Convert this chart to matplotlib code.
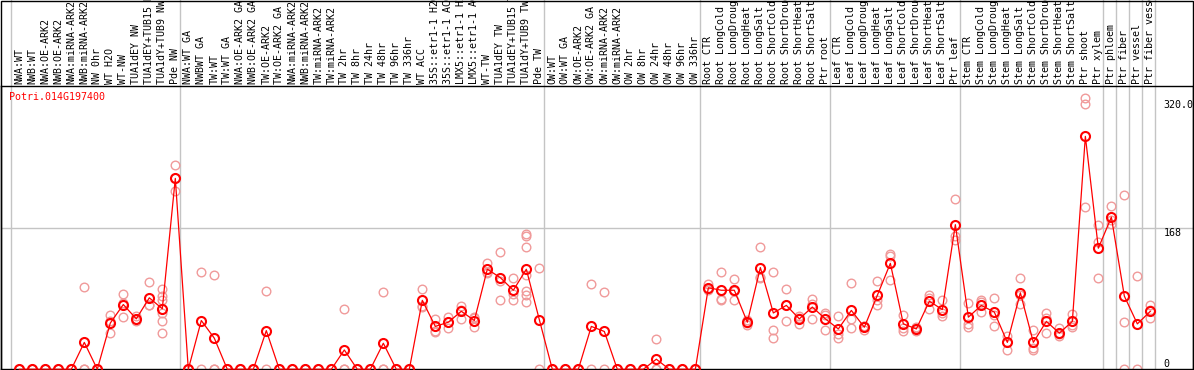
import matplotlib
matplotlib.use("Agg")
import matplotlib.pyplot as plt
import matplotlib.transforms as mtransforms
from matplotlib.patches import Rectangle

# sample names, in plotting order
samples = [
    "NWA:WT", "NWB:WT", "NWA:OE-ARK2", "NWB:OE-ARK2", "NWA:miRNA-ARK2", "NWB:miRNA-ARK2",
    "NW 0hr", "WT H2O", "WT-NW", "TUA1dEY NW", "TUA1dEY+TUB15 NW", "TUA1dY+TUB9 NW", "Pde NW",
    "NWA:WT GA", "NWBWT GA", "TW:WT", "TW:WT GA", "NWA:OE-ARK2 GA", "NWB:OE-ARK2 GA",
    "TW:OE-ARK2", "TW:OE-ARK2 GA", "NWA:miRNA-ARK2", "NWB:miRNA-ARK2", "TW:miRNA-ARK2",
    "TW:miRNA-ARK2", "TW 2hr", "TW 8hr", "TW 24hr", "TW 48hr", "TW 96hr", "TW 336hr",
    "WT ACC", "35S::etr1-1 H2O", "35S::etr1-1 ACC", "LMX5::etr1-1 H2O", "LMX5::etr1-1 ACC",
    "WT-TW", "TUA1dEY TW", "TUA1dEY+TUB15 TW", "TUA1dY+TUB9 TW", "Pde TW",
    "OW:WT", "OW:WT GA", "OW:OE-ARK2", "OW:OE-ARK2 GA", "OW:miRNA-ARK2", "OW:miRNA-ARK2",
    "OW 2hr", "OW 8hr", "OW 24hr", "OW 48hr", "OW 96hr", "OW 336hr",
    "Root CTR", "Root LongCold", "Root LongDrought", "Root LongHeat", "Root LongSalt",
    "Root ShortCold", "Root ShortDrought", "Root ShortHeat", "Root ShortSalt", "Ptr root",
    "Leaf CTR", "Leaf LongCold", "Leaf LongDrought", "Leaf LongHeat", "Leaf LongSalt",
    "Leaf ShortCold", "Leaf ShortDrought", "Leaf ShortHeat", "Leaf ShortSalt", "Ptr leaf",
    "Stem CTR", "Stem LongCold", "Stem LongDrought", "Stem LongHeat", "Stem LongSalt",
    "Stem ShortCold", "Stem ShortDrought", "Stem ShortHeat", "Stem ShortSalt", "Ptr shoot",
    "Ptr xylem", "Ptr phloem", "Ptr fiber", "Ptr vessel", "Ptr fiber vessel",
]

# mean expression per sample
means = [
    0, 0, 0, 0, 0, 32, 0, 55, 77, 60, 85, 72, 227,
    0, 58, 37, 0, 0, 0, 46, 0, 0, 0, 0, 0, 23, 0, 0, 31, 0, 0,
    82, 51, 56, 69, 58, 119, 109, 94, 119, 59,
    0, 0, 0, 51, 45, 0, 0, 0, 12, 0, 0, 0,
    97, 94, 94, 56, 121, 67, 76, 60, 74, 60,
    48, 70, 50, 88, 126, 54, 48, 81, 71, 172,
    62, 76, 68, 32, 91, 32, 57, 43, 57, 277,
    144, 181, 87, 54, 69,
]

# individual replicates per sample
replicates = [
    [0, 0, 0], [0, 0, 0], [0, 0, 0], [0, 0, 0], [0, 0, 0], [98, 0, 0], [0, 0, 0],
    [64, 43, 57], [90, 62, 79], [60, 58, 63], [104, 76, 76], [96, 87, 67, 58, 43, 83],
    [243, 212, 227],
    [0, 0, 0], [116, 0], [112, 0, 0], [0, 0, 0], [0, 0, 0], [0, 0, 0], [93, 0],
    [0, 0, 0], [0, 0, 0], [0, 0, 0], [0, 0, 0], [0, 0, 0], [72, 0, 0], [0, 0, 0],
    [0, 0, 0], [92, 0, 0], [0, 0, 0], [0, 0, 0],
    [95, 75, 74], [60, 46, 44], [62, 49, 56], [75, 60, 71], [61, 50, 62],
    [126, 114, 116], [139, 83, 105], [109, 89, 82], [161, 159, 145, 112, 93, 88, 80],
    [120, 0],
    [0, 0, 0], [0, 0, 0], [0, 0, 0], [102, 0], [92, 0], [0, 0, 0], [0, 0, 0],
    [0, 0, 0], [36, 0, 0], [0, 0, 0], [0, 0, 0], [0, 0, 0],
    [102, 94, 96], [116, 84, 82], [107, 82, 93], [59, 53, 55], [145, 110, 108],
    [116, 47, 37], [96, 57, 76], [63, 54, 61], [84, 78, 60], [67, 65, 47],
    [63, 42, 37], [103, 60, 49], [52, 47, 51], [105, 82, 77], [137, 106, 135],
    [65, 49, 46], [50, 46, 49], [88, 85, 72], [83, 67, 63], [202, 158, 154],
    [79, 54, 50], [83, 80, 68], [85, 64, 51], [40, 23, 33], [108, 78, 88],
    [47, 25, 23], [67, 61, 43], [49, 42, 40], [66, 53, 50], [323, 315, 193],
    [172, 151, 108], [194, 177, 173], [207, 56, 0], [111, 0], [76, 61, 70],
]

# first sample index of each block (separators are drawn before these)
group_starts = [0, 13, 41, 53, 63, 73, 84, 85, 86, 87, 88]

gene = "Potri.014G197400"
y_marks = [320, 168, 0]
y_mark_labels = ["320.0", "168", "0"]

W, H = 1194, 370
fig = plt.figure(figsize=(W / 100, H / 100), dpi=100, facecolor="white")
ax = fig.add_axes([0.5 / W, (H - 369.3) / H, 1192.5 / W, (369.3 - 86) / H])

mono = "DejaVu Sans Mono"
fs = 7.2
gray = "#c4c4c4"

# pale replicate points
for i, reps in enumerate(replicates):
    ax.plot([i] * len(reps), reps, "o", ms=6.2, mfc="none", mec="#f09a9a",
            mew=1.0, clip_on=False, zorder=2)

xs = list(range(len(means)))
ax.plot(xs, means, "-", color="red", lw=0.9, clip_on=False, zorder=3)
ax.plot(xs, means, "o", ms=6.5, mfc="none", mec="red", mew=1.5,
        clip_on=False, zorder=4)

ax.set_xlim(-1.446, 90.28)
ax.set_ylim(0, 336.9)

# separators, running up through the label area
top_ext = 1 + 86 / (369.3 - 86)
for b in group_starts:
    ax.axvline(b - 0.64, ymin=0, ymax=top_ext, color=gray, lw=1.0,
               clip_on=False, zorder=1)
ax.axhline(168, color=gray, lw=1.0, zorder=1)

for s in ax.spines.values():
    s.set_color("black")
    s.set_linewidth(1.0)
ax.set_xticks([])
ax.set_yticks([])

# sample labels, rotated above the plot
trans = mtransforms.blended_transform_factory(ax.transData, fig.transFigure)
for i, name in enumerate(samples):
    ax.text(i, 1 - 83.5 / H, name, transform=trans, rotation=90,
            ha="center", va="bottom", fontsize=fs, family=mono, clip_on=False)

# value marks on the right
for v, lab in zip(y_marks, y_mark_labels):
    ax.text(88.0, v, lab, ha="left", va="top" if v > 0 else "bottom",
            fontsize=fs, family=mono, color="black")

fig.text(9 / W, 1 - 92 / H, gene, color="red", fontsize=fs, family=mono,
         ha="left", va="top")

fig.add_artist(Rectangle((0.5 / W, 0.5 / H), (W - 1.5) / W, (H - 1) / H,
                         transform=fig.transFigure, fill=False,
                         edgecolor="black", lw=1.0))

fig.savefig("out.png", dpi=100)
